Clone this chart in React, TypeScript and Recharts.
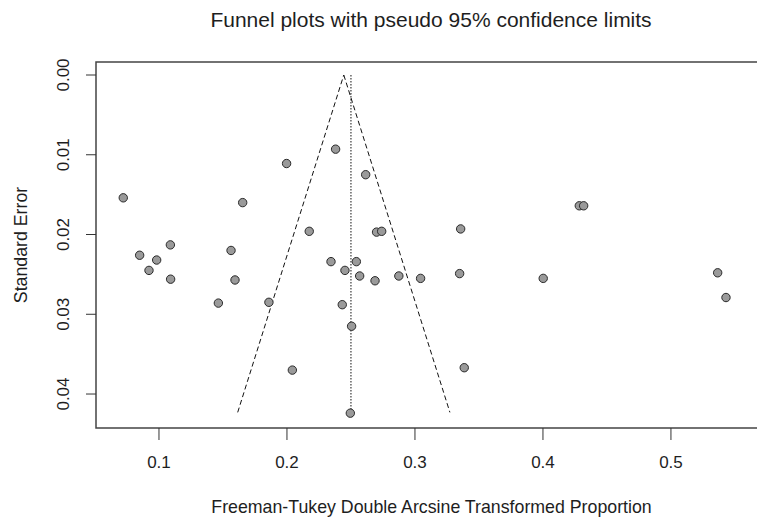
import React from 'react';
import { ScatterChart, Scatter, XAxis, YAxis, ReferenceLine, ReferenceArea } from 'recharts';

// Study effect sizes (Freeman-Tukey double arcsine transformed proportion)
const effectSizes = [
  0.0721, 0.0849, 0.0922, 0.0982, 0.1089, 0.1091, 0.1464, 0.1563, 0.1594, 0.1654,
  0.1859, 0.1997, 0.2042, 0.2174, 0.2344, 0.2380, 0.2432, 0.2453, 0.2505, 0.2495,
  0.2542, 0.2568, 0.2615, 0.2688, 0.2700, 0.2740, 0.2874, 0.3044, 0.3349, 0.3357,
  0.3385, 0.4002, 0.4284, 0.4318, 0.5365, 0.5430,
];
// Standard errors for each study
const standardErrors = [
  0.0154, 0.0226, 0.0245, 0.0232, 0.0213, 0.0256, 0.0286, 0.0220, 0.0257, 0.0160,
  0.0285, 0.0111, 0.0370, 0.0196, 0.0234, 0.0093, 0.0288, 0.0245, 0.0315, 0.0424,
  0.0234, 0.0252, 0.0125, 0.0258, 0.0197, 0.0196, 0.0252, 0.0255, 0.0249, 0.0193,
  0.0367, 0.0255, 0.0164, 0.0164, 0.0248, 0.0279,
];

// Funnel (pseudo 95% confidence limits): left end, apex, right end
const funnelX = [0.1615, 0.2444, 0.3273];
const funnelY = [0.0423, 0.0, 0.0423];
// Summary estimate (dotted vertical line)
const summaryX = 0.25;
const summaryYEnd = 0.0424;

const xTicks = [0.1, 0.2, 0.3, 0.4, 0.5];
const yTicks = [0.0, 0.01, 0.02, 0.03, 0.04];
const xDomain = [0.0508, 0.5852];
const yDomain = [-0.00163, 0.04426];

const title = 'Funnel plots with pseudo 95% confidence limits';
const xLabel = 'Freeman-Tukey Double Arcsine Transformed Proportion';
const yLabel = 'Standard Error';

const data = effectSizes.map((x, i) => ({ x, y: standardErrors[i] }));

const FONT = '"Liberation Sans", Arial, sans-serif';
const TEXT = '#1e1e1e';

const XTick = (props: any) => {
  const { x, y, payload } = props;
  return (
    <text x={x} y={y + 27.5} textAnchor="middle" fontSize={17} fontFamily={FONT} fill={TEXT}>
      {Number(payload.value).toFixed(1)}
    </text>
  );
};

const YTick = (props: any) => {
  const { x, y, payload } = props;
  const bx = x - 17;
  return (
    <text
      x={bx}
      y={y}
      textAnchor="middle"
      fontSize={17}
      fontFamily={FONT}
      fill={TEXT}
      transform={`rotate(-90, ${bx}, ${y})`}
    >
      {Number(payload.value).toFixed(2)}
    </text>
  );
};

const Dot = (props: any) => {
  const { cx, cy } = props;
  return <circle cx={cx} cy={cy} r={4.2} fill="#9a9a9a" stroke="#2a2a2a" strokeWidth={1} />;
};

export default function App() {
  return (
    <div
      style={{
        position: 'absolute',
        left: 0,
        top: 0,
        width: 757,
        height: 517,
        overflow: 'hidden',
        background: '#fff',
      }}
    >
      <ScatterChart
        width={780}
        height={517}
        margin={{ top: 62, right: 0, bottom: 0, left: 0 }}
      >
        <XAxis
          type="number"
          dataKey="x"
          domain={xDomain}
          allowDataOverflow
          ticks={xTicks}
          axisLine={false}
          tickSize={12}
          tickMargin={0}
          tickLine={{ stroke: '#333', strokeWidth: 1 }}
          tick={<XTick />}
          height={89}
          interval={0}
        />
        <YAxis
          type="number"
          dataKey="y"
          domain={yDomain}
          allowDataOverflow
          reversed
          ticks={yTicks}
          axisLine={false}
          tickSize={10}
          tickMargin={0}
          tickLine={{ stroke: '#333', strokeWidth: 1 }}
          tick={<YTick />}
          width={96}
          interval={0}
        />
        <ReferenceArea
          x1={xDomain[0]}
          x2={xDomain[1]}
          y1={yDomain[0]}
          y2={yDomain[1]}
          fill="none"
          stroke="#444"
          strokeWidth={1.5}
          ifOverflow="visible"
        />
        <ReferenceLine
          segment={[
            { x: funnelX[0], y: funnelY[0] },
            { x: funnelX[1], y: funnelY[1] },
          ]}
          stroke="#111"
          strokeWidth={1}
          strokeDasharray="5 3"
        />
        <ReferenceLine
          segment={[
            { x: funnelX[1], y: funnelY[1] },
            { x: funnelX[2], y: funnelY[2] },
          ]}
          stroke="#111"
          strokeWidth={1}
          strokeDasharray="5 3"
        />
        <ReferenceLine
          segment={[
            { x: summaryX, y: 0 },
            { x: summaryX, y: summaryYEnd },
          ]}
          stroke="#111"
          strokeWidth={1}
          strokeDasharray="1.5 1.5"
        />
        <Scatter data={data} shape={<Dot />} isAnimationActive={false} />
        <text x={431} y={27} textAnchor="middle" fontSize={21} fontFamily={FONT} fill={TEXT}>
          {title}
        </text>
        <text x={431.5} y={513} textAnchor="middle" fontSize={17.75} fontFamily={FONT} fill={TEXT}>
          {xLabel}
        </text>
        <text
          x={26.5}
          y={245}
          textAnchor="middle"
          fontSize={17.75}
          fontFamily={FONT}
          fill={TEXT}
          transform="rotate(-90, 26.5, 245)"
        >
          {yLabel}
        </text>
      </ScatterChart>
    </div>
  );
}
